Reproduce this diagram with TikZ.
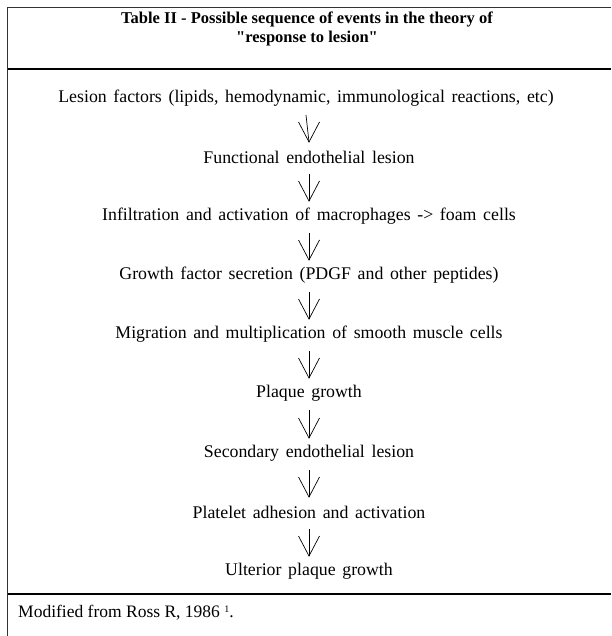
\documentclass[tikz,border=0pt]{standalone}
\usepackage{fontspec}
\setmainfont[WordSpace=1.5]{Liberation Serif}
\newfontfamily\ttlfont{Liberation Serif}
\usetikzlibrary{calc}
\tikzset{
  frame/.style={line width=1.5pt, draw=black!80},
  sepline/.style={line width=2.2pt},
  txt/.style={inner sep=0pt, font=\fontsize{17.8}{20}\selectfont},
  foottxt/.style={inner sep=0pt, font=\ttlfont\fontsize{17.5}{19}\selectfont},
  ttl/.style={inner sep=0pt, align=center, font=\ttlfont\fontsize{16.5}{18.5}\selectfont\bfseries},
  arr/.style={line width=0.7pt},
}
\begin{document}
\begin{tikzpicture}[x=1pt,y=1pt]
\useasboundingbox (0,0) rectangle (611,-636);
% frame
\draw[frame] (7.5,-636) -- (7.5,-7.5) -- (611,-7.5);
\draw[sepline] (7.5,-69) -- (611,-69);
\draw[sepline] (7.5,-594) -- (611,-594);
% title
\node[ttl] (title) at (307,-29) {Table II - Possible sequence of events in the theory of\\ \symbol{34}response to lesion\symbol{34}};
% steps
\node[txt] (t1) at (306,-98) {Lesion factors (lipids, hemodynamic, immunological reactions, etc)};
\node[txt] (t2) at (309,-157) {Functional endothelial lesion};
\node[txt] (t3) at (309,-216) {Infiltration and activation of macrophages -> foam cells};
\node[txt] (t4) at (309,-275) {Growth factor secretion (PDGF and other peptides)};
\node[txt] (t5) at (309,-334) {Migration and multiplication of smooth muscle cells};
\node[txt] (t6) at (309,-393) {Plaque growth};
\node[txt] (t7) at (309,-453) {Secondary endothelial lesion};
\node[txt] (t8) at (309,-512) {Platelet adhesion and activation};
\node[txt] (t9) at (309,-571) {Ulterior plaque growth};
% footer
\node[foottxt, anchor=west] (foot) at (18,-613) {Modified from Ross R, 1986 {\fontsize{10}{10}\selectfont\raisebox{5pt}{1}}.};
% arrows
\foreach \a/\b in {t1/t2,t2/t3,t3/t4,t4/t5,t5/t6,t6/t7,t7/t8,t8/t9}{
  \coordinate (top) at ($(\a.center)+(0,-17)$);
  \coordinate (tip) at ($(\b.center)+(0,15)$);
  \draw[arr] (top) -- (tip);
  \draw[arr] ($(tip)+(-10.5,20)$) -- (tip) -- ($(tip)+(10.5,20)$);
}
\end{tikzpicture}
\end{document}
